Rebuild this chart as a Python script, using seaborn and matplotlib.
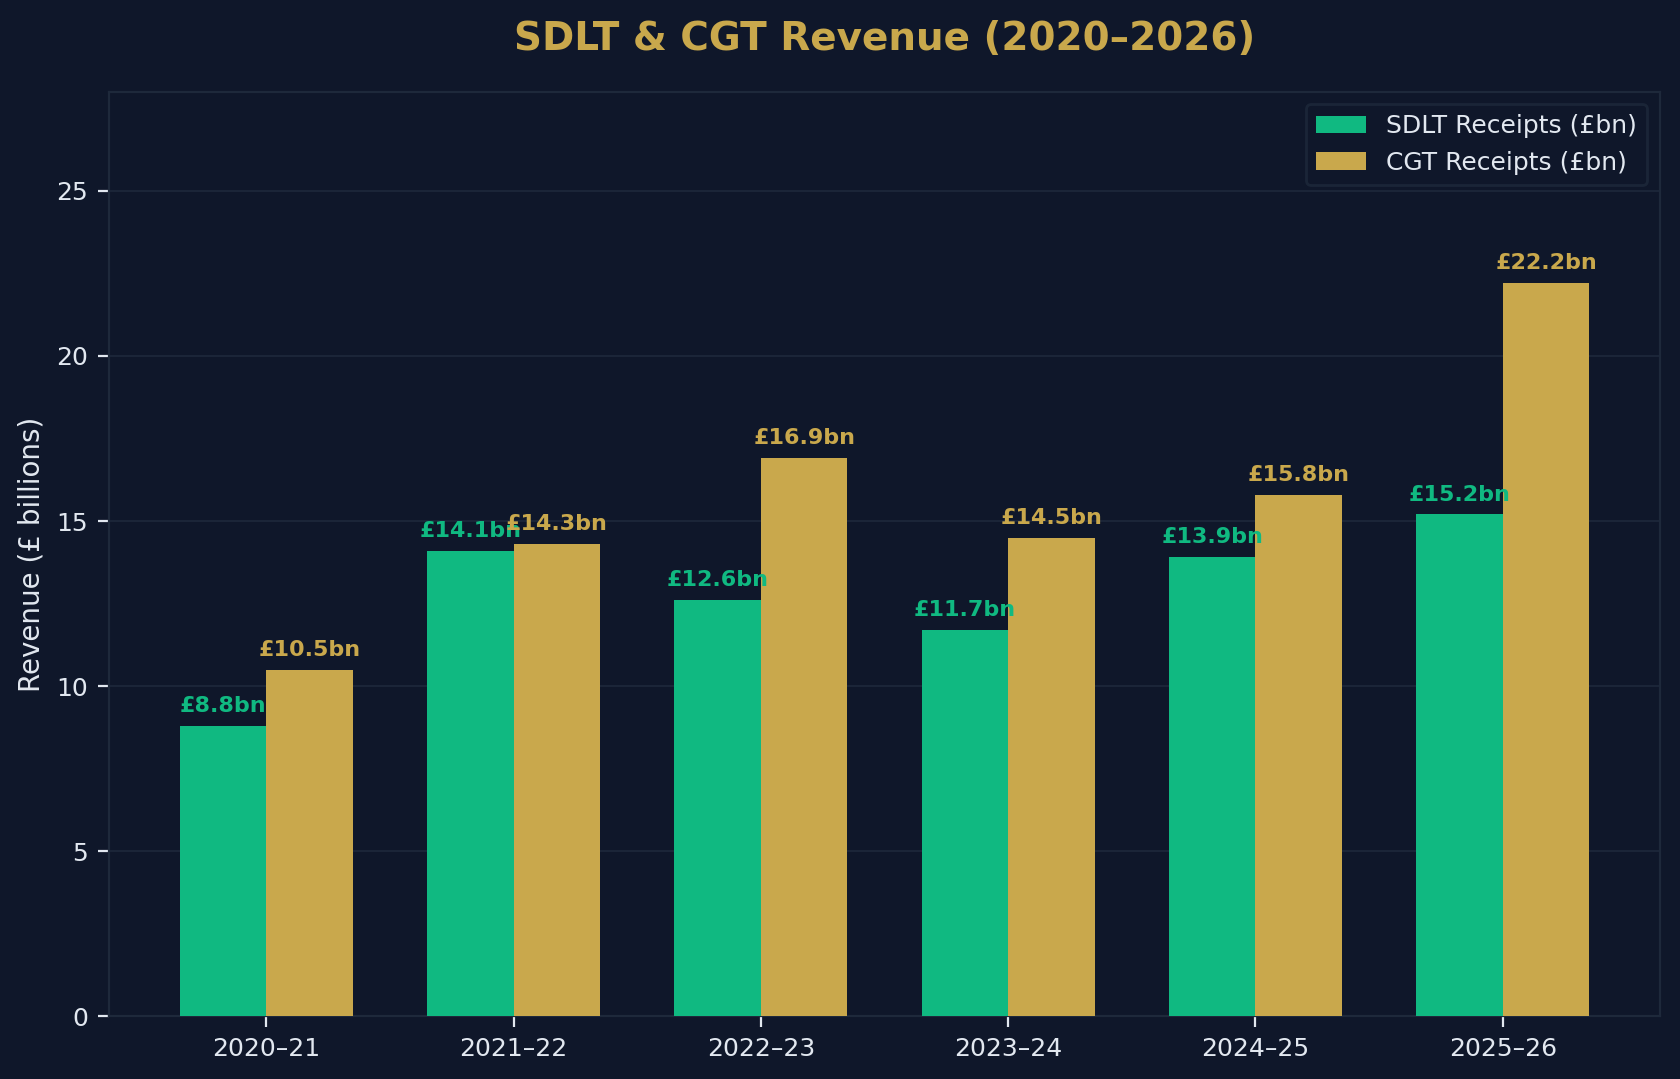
import matplotlib
matplotlib.use("Agg")
import matplotlib.pyplot as plt
import seaborn as sns
import pandas as pd

years = ["2020–21", "2021–22", "2022–23", "2023–24", "2024–25", "2025–26"]
sdlt = [8.8, 14.1, 12.6, 11.7, 13.9, 15.2]
cgt = [10.5, 14.3, 16.9, 14.5, 15.8, 22.2]
series_names = ["SDLT Receipts (£bn)", "CGT Receipts (£bn)"]

BG = "#0f172a"
GRID = "#1e293b"
TEXT = "#e2e8f0"
GREEN = "#10b981"
GOLD = "#c9a84c"

sns.set_theme(style="dark")
plt.rcParams["font.family"] = ["DejaVu Sans"]

df = pd.DataFrame({
    "Year": years * 2,
    "Value": sdlt + cgt,
    "Series": [series_names[0]] * len(years) + [series_names[1]] * len(years),
})

fig, ax = plt.subplots(figsize=(8.4, 5.395), dpi=200)
fig.patch.set_facecolor(BG)
ax.set_facecolor(BG)

sns.barplot(data=df, x="Year", y="Value", hue="Series", order=years,
            hue_order=series_names, palette=[GREEN, GOLD], width=0.7,
            saturation=1, edgecolor="none", ax=ax, zorder=3)

colors = [GREEN, GOLD]
for i, cont in enumerate(ax.containers):
    for bar in cont:
        h = bar.get_height()
        ax.text(bar.get_x() + bar.get_width() / 2, h + 0.3, f"£{h:.1f}bn",
                ha="center", va="bottom", color=colors[i], fontsize=8,
                fontweight="bold", zorder=5)

ax.set_xlim(-0.635, 5.635)
ax.set_ylim(0, 28)
ax.set_yticks([0, 5, 10, 15, 20, 25])
ax.set_xlabel("")
ax.set_ylabel("Revenue (£ billions)", color=TEXT, fontsize=10)
ax.set_title("SDLT & CGT Revenue (2020–2026)", color=GOLD, fontsize=14,
             fontweight="bold", pad=15)

ax.tick_params(axis="both", colors=TEXT, labelsize=9, length=4, width=0.8,
               bottom=True, left=True)
ax.yaxis.grid(True, color=GRID, linewidth=0.6, zorder=0)
ax.xaxis.grid(False)
for sp in ax.spines.values():
    sp.set_visible(True)
    sp.set_color(GRID)
    sp.set_linewidth(0.8)

leg = ax.legend(loc="upper right", fontsize=9, frameon=True, title=None)
leg.get_frame().set_facecolor(BG)
leg.get_frame().set_edgecolor(GRID)
for t in leg.get_texts():
    t.set_color(TEXT)

fig.subplots_adjust(left=0.065, right=0.988, top=0.915, bottom=0.058)
fig.savefig("out.png", dpi=200, facecolor=BG)
